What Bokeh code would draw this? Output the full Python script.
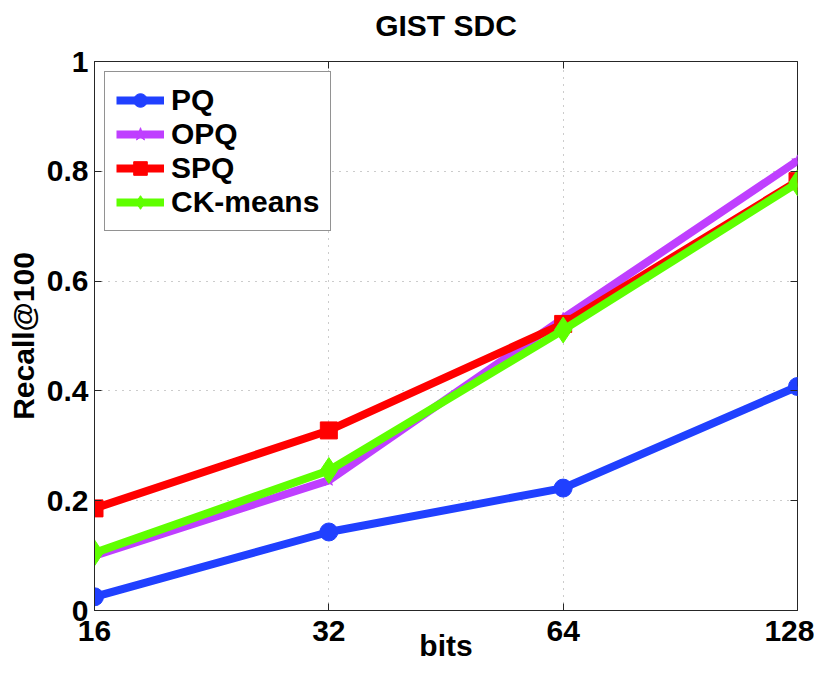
from bokeh.plotting import figure
from bokeh.models import Range1d, FixedTicker, Legend, LegendItem, LinearAxis, LogAxis
from bokeh.embed import file_html
from bokeh.resources import INLINE

bits = [16, 32, 64, 128]
x_tick_labels = ["16", "32", "64", "128"]
y_ticks = [0, 0.2, 0.4, 0.6, 0.8, 1.0]
y_tick_labels = ["0", "0.2", "0.4", "0.6", "0.8", "1"]

pq = [0.025, 0.143, 0.223, 0.408]
opq = [0.100, 0.237, 0.532, 0.819]
spq = [0.186, 0.328, 0.522, 0.782]
ckmeans = [0.105, 0.255, 0.511, 0.779]

FONT = "Liberation Sans"
SPINE = "#262626"

p = figure(width=814, height=670, x_axis_type="log",
           x_range=Range1d(bits[0], bits[-1]), y_range=Range1d(0, 1),
           output_backend="svg", toolbar_location=None,
           title="GIST SDC",
           min_border_left=94, min_border_right=17,
           min_border_top=0, min_border_bottom=60)

p.title.text_font = FONT
p.title.text_font_size = "30px"
p.title.text_font_style = "bold"
p.title.text_color = "black"
p.title.align = "center"
p.title.vertical_align = "top"
p.title.standoff = 16

p.outline_line_color = SPINE
p.outline_line_width = 1
p.background_fill_color = "white"
p.border_fill_color = "white"

# main axes
p.xaxis.ticker = FixedTicker(ticks=bits)
p.xaxis.major_label_overrides = {b: l for b, l in zip(bits, x_tick_labels)}
p.yaxis.ticker = FixedTicker(ticks=y_ticks)
p.yaxis.major_label_overrides = {t: l for t, l in zip(y_ticks, y_tick_labels)}
p.xaxis.axis_label = "bits"
p.yaxis.axis_label = "Recall@100"
for ax in (p.xaxis[0], p.yaxis[0]):
    ax.axis_label_text_font = FONT
    ax.axis_label_text_font_size = "30px"
    ax.axis_label_text_font_style = "bold"
    ax.axis_label_text_color = "black"
    ax.major_label_text_font = FONT
    ax.major_label_text_font_size = "30px"
    ax.major_label_text_font_style = "bold"
    ax.major_label_text_color = "black"
    ax.major_tick_in = 7
    ax.major_tick_out = 0
    ax.minor_tick_in = 0
    ax.minor_tick_out = 0
    ax.axis_line_color = SPINE
    ax.major_tick_line_color = SPINE
p.xaxis.major_label_standoff = 10
p.xaxis.axis_label_standoff = -15
p.yaxis.major_label_standoff = 6
p.yaxis.axis_label_standoff = 4

# mirrored tick marks on top and right (no labels)
top_ax = LogAxis(ticker=FixedTicker(ticks=bits), major_label_text_font_size="0px",
                 major_label_standoff=0, major_tick_in=7, major_tick_out=0,
                 minor_tick_in=0, minor_tick_out=0,
                 axis_line_color=None, major_tick_line_color=SPINE)
right_ax = LinearAxis(ticker=FixedTicker(ticks=y_ticks), major_label_text_font_size="0px",
                      major_label_standoff=0, major_tick_in=7, major_tick_out=0,
                      minor_tick_in=0, minor_tick_out=0,
                      axis_line_color=None, major_tick_line_color=SPINE)
top_ax.major_label_overrides = {b: "" for b in bits}
right_ax.major_label_overrides = {t: "" for t in y_ticks}
p.add_layout(top_ax, "above")
p.add_layout(right_ax, "right")

# invisible spacer between the title and the frame
spacer_ax = LogAxis(ticker=FixedTicker(ticks=bits), major_label_text_font_size="0px",
                    major_label_standoff=0, major_tick_in=0, major_tick_out=10,
                    minor_tick_in=0, minor_tick_out=0,
                    axis_line_color=None, major_tick_line_color=None)
spacer_ax.major_label_overrides = {b: "" for b in bits}
p.add_layout(spacer_ax, "above")

p.xgrid.grid_line_color = "#999999"
p.ygrid.grid_line_color = "#999999"
p.xgrid.grid_line_dash = "1 6"
p.ygrid.grid_line_dash = "1 6"
p.xgrid.ticker = FixedTicker(ticks=bits)
p.ygrid.ticker = FixedTicker(ticks=y_ticks)

series = [
    ("PQ", pq, "#2040ff", "circle", 18),
    ("OPQ", opq, "#bf3fff", "star", 12),
    ("SPQ", spq, "#ff0000", "square", 17),
    ("CK-means", ckmeans, "#5fff00", "diamond", 26),
]

items = []
for name, ys, color, marker, size in series:
    ln = p.line(bits, ys, line_color=color, line_width=8)
    sc = p.scatter(bits, ys, marker=marker, size=size,
                   fill_color=color, line_color=color, line_width=1)
    items.append(LegendItem(label=name, renderers=[ln, sc]))

legend = Legend(items=items, location="top_left", margin=10,
                padding=11, spacing=0,
                glyph_width=48, glyph_height=34, label_height=34,
                label_standoff=7,
                label_text_font=FONT, label_text_font_size="30px",
                label_text_font_style="bold", label_text_color="black",
                border_line_color=SPINE, border_line_width=1,
                background_fill_color="white", background_fill_alpha=1)
p.add_layout(legend, "center")

open("out.html", "w").write(file_html(p, INLINE))
